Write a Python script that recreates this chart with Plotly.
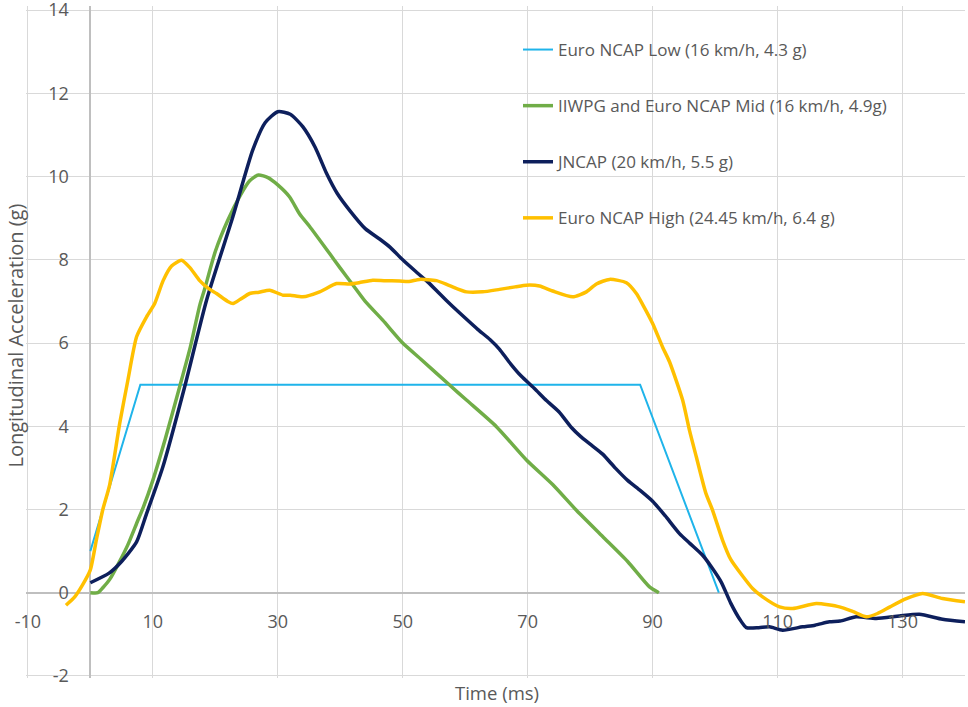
import plotly.graph_objects as go

# ---------------- data ----------------
low_x = [0, 8, 88, 100.6]
low_y = [1.0, 5.0, 5.0, 0.0]

mid_x = [0, 1.2, 2, 3.1, 4.5, 6, 7.5, 8.5, 10, 12, 14.3, 16, 17.5, 18.3, 20, 22, 24, 25.5,
         26.9, 28.5, 30, 31.9, 33.5, 35.1, 38.3, 40, 42, 44, 46.8, 50, 53, 57.5, 60.2, 65,
         69.8, 74, 77.8, 82, 86, 89.5, 91]
mid_y = [0, 0, 0.12, 0.32, 0.7, 1.15, 1.7, 2.06, 2.7, 3.7, 4.95, 5.9, 6.9, 7.3, 8.2, 8.95,
         9.55, 9.9, 10.04, 9.97, 9.8, 9.51, 9.1, 8.8, 8.15, 7.8, 7.4, 7.0, 6.55, 6.0, 5.6,
         4.99, 4.63, 3.99, 3.19, 2.6, 1.98, 1.35, 0.75, 0.14, 0]

jn_x = [0, 3, 5, 7.4, 9, 11.6, 15.1, 18.6, 22.8, 26, 28, 30, 32, 34, 36, 37.8, 39.5, 41.5,
        44, 46.3, 48, 50, 52, 54, 56, 58, 60, 62, 64, 65.5, 67, 69, 71, 73, 75, 77, 78.5,
        80, 82, 84, 86, 88, 90, 92, 94.3, 96, 98, 99.5, 101, 102.5, 104, 105, 107, 108.7,
        110.8, 114, 116, 118.3, 120, 122.6, 125.8, 129.5, 132.7, 136.4, 140]
jn_y = [0.24, 0.47, 0.75, 1.22, 1.9, 3.02, 4.95, 7.03, 9.03, 10.64, 11.3, 11.56, 11.5, 11.2,
        10.7, 10.08, 9.6, 9.19, 8.75, 8.5, 8.3, 8.0, 7.73, 7.47, 7.17, 6.88, 6.6, 6.33,
        6.08, 5.85, 5.55, 5.2, 4.92, 4.62, 4.35, 3.97, 3.75, 3.57, 3.33, 3.0, 2.7, 2.46,
        2.2, 1.85, 1.42, 1.18, 0.9, 0.6, 0.25, -0.25, -0.65, -0.84, -0.84, -0.82, -0.9,
        -0.82, -0.78, -0.7, -0.68, -0.58, -0.62, -0.56, -0.52, -0.64, -0.7]

hi_x = [-3.9, -2.5, -1.2, 0, 1, 2, 3.1, 4.7, 6, 7.4, 9, 10.3, 11.65, 13, 14.6, 16, 17.5, 19,
        20.2, 22, 22.85, 24, 25.5, 27, 28.7, 30.85, 32, 34, 36.7, 39.4, 41.5, 43, 45.2, 47,
        49.5, 51, 52.7, 55.4, 57.5, 60.2, 62.8, 65.5, 68, 69.8, 71.9, 74, 77.2, 79.4, 81,
        83.1, 85.8, 87.4, 88.5, 90, 91.6, 92.7, 94.8, 95.9, 97, 98.5, 99.6, 101.2, 102.5,
        104.4, 106, 107.6, 110.3, 112.4, 116.2, 119.9, 122, 124.2, 126, 128, 130.5, 133.2,
        136.4, 140]
hi_y = [-0.3, -0.1, 0.2, 0.55, 1.3, 2.0, 2.6, 4.07, 5.1, 6.15, 6.63, 6.95, 7.5, 7.85, 7.99,
        7.8, 7.5, 7.3, 7.19, 7.0, 6.95, 7.05, 7.19, 7.22, 7.27, 7.15, 7.15, 7.11, 7.23, 7.43,
        7.42, 7.45, 7.51, 7.5, 7.49, 7.48, 7.53, 7.5, 7.38, 7.23, 7.23, 7.29, 7.35, 7.39,
        7.37, 7.25, 7.11, 7.23, 7.42, 7.53, 7.45, 7.19, 6.9, 6.47, 5.9, 5.55, 4.63, 3.9,
        3.26, 2.4, 1.98, 1.26, 0.8, 0.4, 0.1, -0.1, -0.34, -0.38, -0.26, -0.34, -0.45,
        -0.58, -0.5, -0.34, -0.15, -0.02, -0.14, -0.22]

names = ["Euro NCAP Low (16 km/h, 4.3 g)",
         "IIWPG and Euro NCAP Mid (16 km/h, 4.9g)",
         "JNCAP (20 km/h, 5.5 g)",
         "Euro NCAP High (24.45 km/h, 6.4 g)"]
colors = ["#1FB4EA", "#70AD47", "#0D1F5C", "#FFC000"]
widths = [2, 3.5, 3.5, 3.5]

x_ticks = [-10, 10, 30, 50, 70, 90, 110, 130]
y_ticks = [-2, 0, 2, 4, 6, 8, 10, 12, 14]

# ---------------- figure ----------------
fig = go.Figure()
series = [(low_x, low_y, "linear"), (mid_x, mid_y, "spline"),
          (jn_x, jn_y, "spline"), (hi_x, hi_y, "spline")]
for i, (xs, ys, shp) in enumerate(series):
    fig.add_trace(go.Scatter(
        x=xs, y=ys, mode="lines", name=names[i], legendgroup=f"g{i}",
        line=dict(color=colors[i], width=widths[i], shape=shp, smoothing=0.6),
    ))

# plot area in pixels (slightly padded so edge gridlines are kept)
L, T, W, H = 26, 6, 939, 672
XR = [-10.3, 140]
YR = [-2.05, 14.1]


def px(xp):
    return (xp - L) / W


def py(yp):
    return 1 - (yp - T) / H


grey = "#595959"
fig.update_layout(
    width=968, height=707,
    margin=dict(l=L, r=968 - L - W, t=T, b=707 - T - H, autoexpand=False),
    paper_bgcolor="white", plot_bgcolor="white",
    font=dict(family="Open Sans", color=grey),
    showlegend=True,
    legend=dict(
        x=px(518), y=py(32), xanchor="left", yanchor="top",
        bgcolor="rgba(0,0,0,0)", traceorder="grouped", tracegroupgap=31,
        font=dict(size=17, color=grey, family="Open Sans"),
    ),
    xaxis=dict(
        range=XR, tickvals=x_ticks, ticktext=[str(v) for v in x_ticks],
        showgrid=True, gridcolor="#D9D9D9", gridwidth=1,
        zeroline=True, zerolinecolor="#BFBFBF", zerolinewidth=2,
        anchor="free", position=(0 - YR[0]) / (YR[1] - YR[0]), showline=False,
        ticks="outside", ticklen=13, tickcolor="rgba(0,0,0,0)",
        ticklabeloverflow="allow", automargin=False,
        tickfont=dict(size=18, color=grey, family="Open Sans"),
    ),
    yaxis=dict(
        range=YR, tickvals=y_ticks, ticktext=[str(v) for v in y_ticks],
        showgrid=True, gridcolor="#D9D9D9", gridwidth=1,
        zeroline=True, zerolinecolor="#BFBFBF", zerolinewidth=1.5,
        anchor="free", position=(0 - XR[0]) / (XR[1] - XR[0]), showline=False,
        ticks="outside", ticklen=18, tickcolor="rgba(0,0,0,0)",
        ticklabeloverflow="allow", automargin=False,
        tickfont=dict(size=18, color=grey, family="Open Sans"),
    ),
    shapes=[dict(type="rect", xref="paper", yref="paper", layer="between",
                 x0=px(485), x1=px(923), y0=py(235), y1=py(20),
                 fillcolor="white", line=dict(width=0))],
    annotations=[
        dict(text="Time (ms)", xref="paper", yref="paper", x=px(496.5), y=py(692),
             xanchor="center", yanchor="middle", showarrow=False,
             font=dict(size=18.5, color=grey, family="Open Sans")),
        dict(text="Longitudinal Acceleration (g)", xref="paper", yref="paper",
             x=px(14.5), y=py(336), textangle=-90, xanchor="center",
             yanchor="middle", showarrow=False,
             font=dict(size=20, color=grey, family="Open Sans")),
    ],
)

fig.write_html("out.html", config={"displayModeBar": False})
